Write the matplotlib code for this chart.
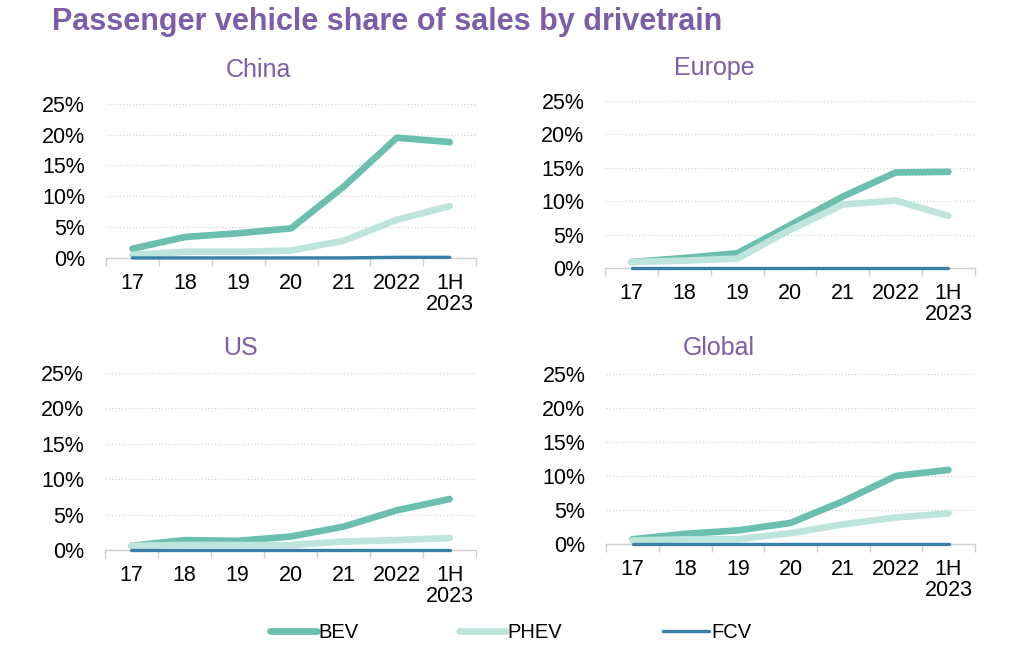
import matplotlib
matplotlib.use("Agg")
import matplotlib.pyplot as plt
from matplotlib.ticker import FuncFormatter, FixedLocator

plt.rcParams['font.family'] = ['Liberation Sans', 'DejaVu Sans']

categories = ["17", "18", "19", "20", "21", "2022", "1H\n2023"]
series_names = ["BEV", "PHEV", "FCV"]

china_bev = [1.5, 3.4, 4.0, 4.8, 11.6, 19.5, 18.8]
china_phev = [0.5, 1.0, 1.0, 1.2, 2.8, 6.2, 8.4]
china_fcv = [0.0, 0.0, 0.0, 0.0, 0.0, 0.1, 0.1]

europe_bev = [0.9, 1.5, 2.2, 6.4, 10.7, 14.3, 14.4]
europe_phev = [0.9, 1.1, 1.4, 5.7, 9.5, 10.1, 7.8]
europe_fcv = [0.0, 0.0, 0.0, 0.0, 0.0, 0.0, 0.0]

us_bev = [0.6, 1.4, 1.3, 1.9, 3.3, 5.6, 7.2]
us_phev = [0.6, 0.7, 0.7, 0.7, 1.2, 1.4, 1.7]
us_fcv = [0.0, 0.0, 0.0, 0.0, 0.0, 0.0, 0.0]

global_bev = [0.7, 1.5, 2.0, 3.1, 6.3, 10.0, 10.9]
global_phev = [0.5, 0.7, 0.7, 1.6, 2.9, 3.9, 4.5]
global_fcv = [0.0, 0.0, 0.0, 0.0, 0.0, 0.0, 0.0]

y_ticks = [0, 5, 10, 15, 20, 25]

colors = {"BEV": "#6bbfad", "PHEV": "#bde5dc", "FCV": "#3a7fa6"}
widths = {"BEV": 4.8, "PHEV": 4.8, "FCV": 2.4}
zorders = {"BEV": 3, "PHEV": 3.5, "FCV": 4}
purple = "#7b5ea7"

panels = [
    ("China", [china_bev, china_phev, china_fcv], [0.1035, 0.605, 0.3615, 0.236], 0.252),
    ("Europe", [europe_bev, europe_phev, europe_fcv], [0.591, 0.5896, 0.361, 0.2557], 0.698),
    ("US", [us_bev, us_phev, us_fcv], [0.1025, 0.1577, 0.3625, 0.2711], 0.235),
    ("Global", [global_bev, global_phev, global_fcv], [0.592, 0.1669, 0.360, 0.2604], 0.702),
]

fig = plt.figure(figsize=(10.24, 6.53), dpi=100)
fig.text(0.051, 0.966, "Passenger vehicle share of sales by drivetrain",
         fontsize=22, fontweight='bold', color=purple, ha='left', va='center')

title_y = {"China": 0.893, "Europe": 0.896, "US": 0.467, "Global": 0.467}

handles = []
for name, data, rect, tx in panels:
    ax = fig.add_axes(rect)
    x = list(range(len(categories)))
    for sname, vals in zip(series_names, data):
        h, = ax.plot(x, vals, color=colors[sname], lw=widths[sname],
                     solid_capstyle='round', solid_joinstyle='round', label=sname,
                     zorder=zorders[sname], clip_on=False)
        if name == "China":
            handles.append(h)
    ax.set_xlim(-0.5, len(categories) - 0.5)
    ax.set_ylim(0, 25)
    ax.set_yticks(y_ticks)
    ax.yaxis.set_major_formatter(FuncFormatter(lambda v, p: f"{int(v)}%"))
    ax.set_xticks(x)
    ax.set_xticklabels(categories)
    ax.xaxis.set_minor_locator(FixedLocator([i - 0.5 for i in range(len(categories) + 1)]))
    ax.tick_params(axis='x', which='major', length=0, pad=11, labelsize=15.5)
    ax.tick_params(axis='x', which='minor', length=6, color='#d0d0d0', width=1)
    ax.tick_params(axis='y', length=0, pad=15, labelsize=15.5)
    for lab in ax.get_xticklabels():
        lab.set_linespacing(1.0)
    for s in ['top', 'right', 'left']:
        ax.spines[s].set_visible(False)
    ax.spines['bottom'].set_color('#d0d0d0')
    ax.spines['bottom'].set_linewidth(1)
    ax.spines['bottom'].set_zorder(1)
    ax.grid(axis='y', color='#d4d4d4', linestyle=':', linewidth=0.9)
    ax.set_axisbelow(True)
    fig.text(tx, title_y[name], name, fontsize=18, color=purple, ha='center', va='center')

fig.legend(handles, series_names, loc='center', bbox_to_anchor=(0.499, 0.032),
           ncol=3, frameon=False, fontsize=14.5, handlelength=2.3,
           handletextpad=0.1, columnspacing=5.0)

fig.savefig("out.png", dpi=100)
